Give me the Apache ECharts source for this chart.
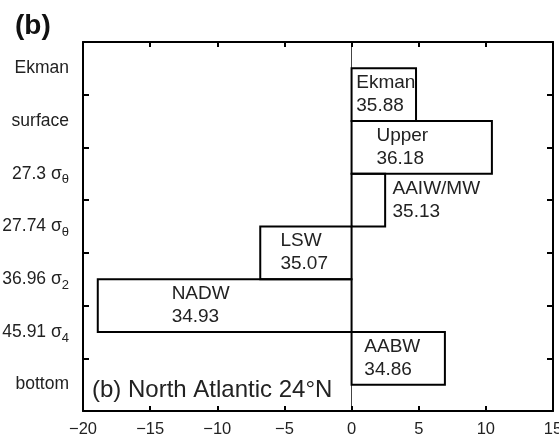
<!DOCTYPE html>
<html>
<head>
<meta charset="utf-8">
<script src="https://cdn.jsdelivr.net/npm/echarts@6/dist/echarts.min.js"></script>
<style>
html,body{margin:0;padding:0;background:#fff;}
#c{width:559px;height:438px;}
</style>
</head>
<body>
<div id="c"></div>
<script>
// Layer boundary labels (y axis, top to bottom)
const layerLabels = ['Ekman', 'surface', '27.3 σθ', '27.74 σθ', '36.96 σ2', '45.91 σ4', 'bottom'];
// Water masses (bars between consecutive boundaries)
const massNames = ['Ekman', 'Upper', 'AAIW/MW', 'LSW', 'NADW', 'AABW'];
const transports = [4.8, 10.45, 2.5, -6.8, -18.9, 6.95];   // Sv
const salinities = ['35.88', '36.18', '35.13', '35.07', '34.93', '34.86'];
// Label anchor x (data units) for each mass annotation
const labelX = [0.35, 1.85, 3.05, -5.3, -13.4, 0.95];
const xTicks = [-20, -15, -10, -5, 0, 5, 10, 15];

const chart = echarts.init(document.getElementById('c'), null, {renderer: 'canvas'});
const FONT = 'Liberation Sans, Arial, Helvetica, sans-serif';

const yRich = {
  n: {fontSize: 17.5, fontFamily: FONT, color: '#222'},
  s: {fontSize: 13, fontFamily: FONT, color: '#222', padding: [12, 0, 0, 0]}
};
function yFmt(v) {
  const m = v.match(/^(.*σ)(.)$/);
  if (m) return '{n|' + m[1] + '}{s|' + m[2] + '}';
  return '{n|' + v + '}';
}

const data = massNames.map((n, i) => [0, transports[i], i]);

const frameAxisLine = {show: true, onZero: false, lineStyle: {color: '#000', width: 2}};
const tickStyle = {color: '#000', width: 2};

chart.setOption({
  animation: false,
  backgroundColor: '#fff',
  grid: {left: 83, right: 6, top: 42, bottom: 27, containLabel: false, outerBoundsMode: 'none'},
  graphic: [
    {type: 'text', left: 15, top: 12, style: {text: '(b)', font: 'bold 28px ' + FONT, fill: '#111'}},
    {type: 'text', left: 92, top: 378, style: {text: '(b) North Atlantic 24°N', font: '24px ' + FONT, fill: '#222'}}
  ],
  xAxis: [{
    type: 'value', position: 'bottom', min: xTicks[0], max: xTicks[xTicks.length - 1], interval: 5,
    axisLine: frameAxisLine,
    axisTick: {show: true, inside: true, length: 5, lineStyle: tickStyle},
    axisLabel: {fontSize: 16.5, fontFamily: FONT, color: '#222', margin: 10,
      formatter: v => String(v).replace('-', '\u2212')},
    splitLine: {show: false}
  }, {
    type: 'value', position: 'top', min: xTicks[0], max: xTicks[xTicks.length - 1], interval: 5,
    axisLine: frameAxisLine,
    axisTick: {show: true, inside: true, length: 5, lineStyle: tickStyle},
    axisLabel: {show: false}, splitLine: {show: false}
  }],
  yAxis: [{
    type: 'category', data: layerLabels, inverse: true, position: 'left', boundaryGap: true,
    axisLine: frameAxisLine,
    axisTick: {show: true, inside: true, length: 6, lineStyle: tickStyle},
    axisLabel: {margin: 14, formatter: yFmt, rich: yRich},
    splitLine: {show: false}
  }, {
    type: 'category', data: layerLabels, inverse: true, position: 'right', boundaryGap: true,
    axisLine: frameAxisLine,
    axisTick: {show: true, inside: true, length: 6, lineStyle: tickStyle},
    axisLabel: {show: false}, splitLine: {show: false}
  }, {
    // zero reference line, drawn by the axis on x = 0
    type: 'category', data: layerLabels, inverse: true, boundaryGap: true,
    axisLine: {show: true, onZero: true, lineStyle: {color: '#444', width: 1}},
    axisTick: {show: false}, axisLabel: {show: false}, splitLine: {show: false}
  }],
  series: [{
    type: 'custom',
    xAxisIndex: 0, yAxisIndex: 0,
    data: data,
    encode: {x: [0, 1], y: 2},
    clip: false,
    renderItem: function (params, api) {
      const i = params.dataIndex;
      const x0 = api.value(0), x1 = api.value(1), row = api.value(2);
      const pA = api.coord([x0, row]);
      const pB = api.coord([x1, row + 1]);
      const left = Math.min(pA[0], pB[0]);
      const w = Math.abs(pB[0] - pA[0]);
      const top = pA[1];
      const h = pB[1] - pA[1];
      const tp = api.coord([labelX[i], row]);
      return {
        type: 'group',
        children: [{
          type: 'rect',
          shape: {x: left, y: top, width: w, height: h},
          style: {fill: 'rgba(0,0,0,0)', stroke: '#000', lineWidth: 2}
        }, {
          type: 'text',
          x: tp[0], y: top + 3,
          style: {text: massNames[i] + '\n' + salinities[i], fontSize: 19, fontFamily: FONT,
            fill: '#222', lineHeight: 23, align: 'left', verticalAlign: 'top'}
        }]
      };
    },
    z: 3
  }]
});
</script>
</body>
</html>
